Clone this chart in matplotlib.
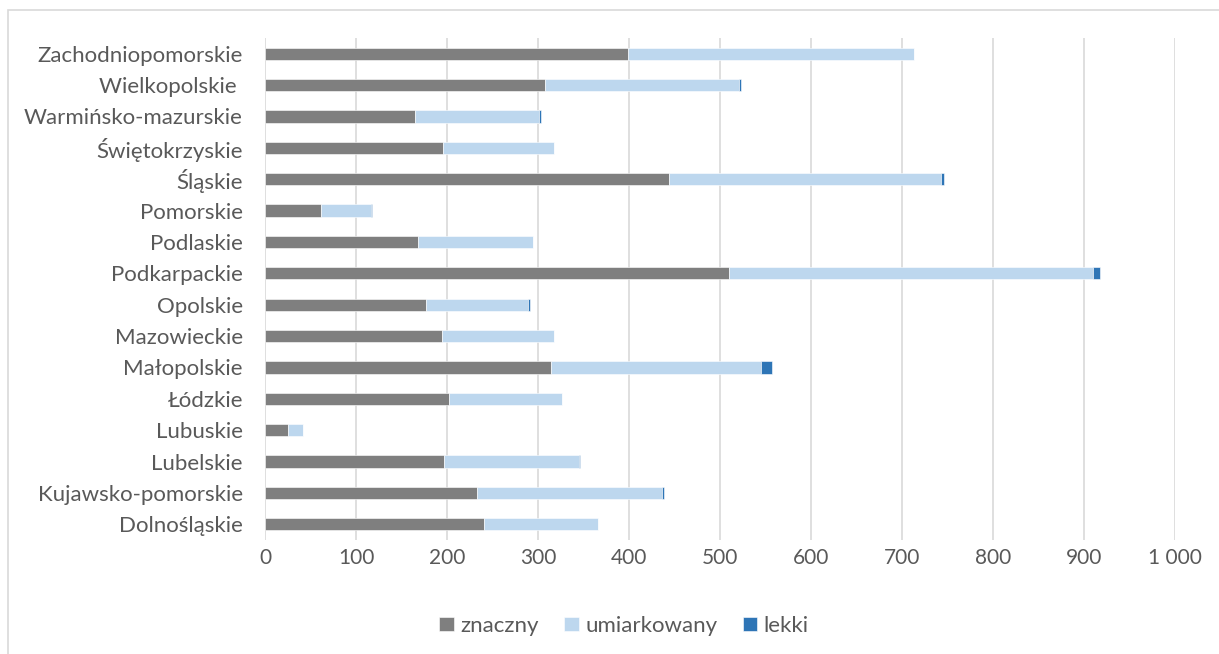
import numpy as np
import matplotlib
matplotlib.use("Agg")
import matplotlib.pyplot as plt
from matplotlib.patches import Rectangle
from matplotlib.ticker import FuncFormatter

# ── Data (bottom to top) ─────────────────────────────────────────────────────

regions = [
    "Dolnośląskie", "Kujawsko-pomorskie", "Lubelskie", "Lubuskie", "Łódzkie",
    "Małopolskie", "Mazowieckie", "Opolskie", "Podkarpackie", "Podlaskie",
    "Pomorskie", "Śląskie", "Świętokrzyskie", "Warmińsko-mazurskie",
    "Wielkopolskie ", "Zachodniopomorskie",
]
znaczny = [241, 233, 197, 25, 202, 314, 194, 177, 510, 168, 61, 444, 196, 165, 308, 399]
umiarkowany = [125, 203, 148, 17, 124, 231, 124, 112, 400, 126, 56, 299, 122, 136, 213, 314]
lekki = [0, 2, 1, 0, 0, 12, 0, 2, 8, 0, 1, 3, 0, 2, 2, 0]

series_names = ["znaczny", "umiarkowany", "lekki"]
colors = ["#7F7F7F", "#BDD7EE", "#2E75B6"]
TEXT = "#595959"

# ── Plot ─────────────────────────────────────────────────────────────────────

plt.rcParams["font.family"] = ["Lato", "DejaVu Sans"]

fig = plt.figure(figsize=(12.19, 6.54), dpi=100)
ax = fig.add_axes([0.2174, 0.1743, 0.7465, 0.7676])

y = np.arange(len(regions))
left = np.zeros(len(regions))
for vals, name, col in zip([znaczny, umiarkowany, lekki], series_names, colors):
    ax.barh(y, vals, left=left, height=0.39, color=col, label=name,
            edgecolor="white", linewidth=0.4, zorder=3)
    left = left + np.array(vals)

ax.set_xlim(0, 1000)
ax.set_ylim(-0.5, len(regions) - 0.5)
ax.set_xticks(np.arange(0, 1001, 100))
ax.xaxis.set_major_formatter(FuncFormatter(lambda v, p: f"{int(v):,}".replace(",", " ")))
ax.set_yticks(y)
ax.set_yticklabels(regions)

ax.grid(axis="x", color="#D9D9D9", linewidth=1.2, zorder=0)
for s in ax.spines.values():
    s.set_visible(False)
ax.tick_params(axis="both", length=0, colors=TEXT)
ax.tick_params(axis="y", pad=16, labelsize=16)
ax.tick_params(axis="x", pad=6, labelsize=15)

leg = fig.legend(loc="center", bbox_to_anchor=(0.512, 0.043), ncol=3, frameon=False,
                 fontsize=16, handlelength=0.64, handleheight=0.64,
                 handletextpad=0.3, columnspacing=1.15)
for t in leg.get_texts():
    t.set_color(TEXT)

# chart frame (cropped on right/bottom)
fig.patches.append(Rectangle((8 / 1219, -0.05), 1.1, 1 - 10 / 654 + 0.05,
                             transform=fig.transFigure, fill=False,
                             edgecolor="#D9D9D9", linewidth=1.2))

fig.savefig("out.png", dpi=100)
